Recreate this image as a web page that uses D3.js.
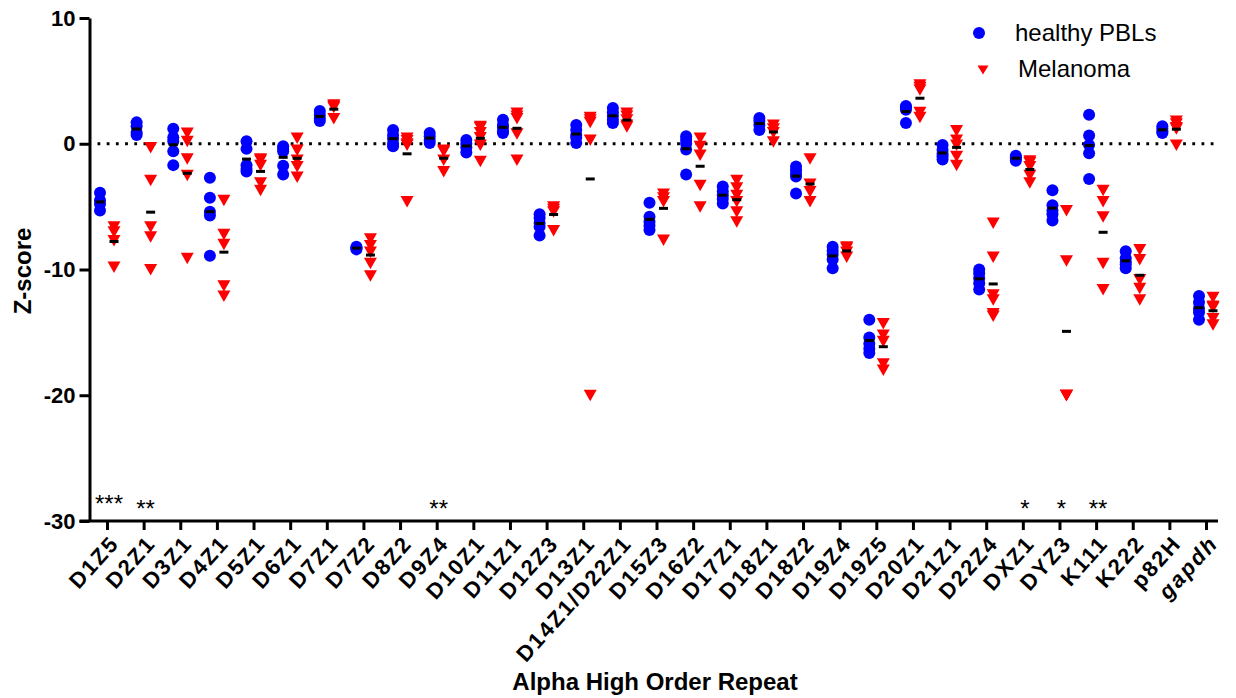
<!DOCTYPE html>
<html lang="en">
<head>
<meta charset="utf-8">
<title>Alpha HOR z-scores</title>
<script src="https://cdn.jsdelivr.net/npm/d3@7"></script>
<style>
  body { margin: 0; background: #fff; }
  svg { font-family: "Liberation Sans", Arial, sans-serif; }
  .axis path, .axis line { stroke: #000; stroke-width: 3; fill: none; }
  .axis text { fill: #000; font-weight: bold; font-family: "Liberation Sans", Arial, sans-serif; }
</style>
</head>
<body>
<script>
// categories (x axis)
var categories = ["D1Z5","D2Z1","D3Z1","D4Z1","D5Z1","D6Z1","D7Z1","D7Z2","D8Z2","D9Z4",
  "D10Z1","D11Z1","D12Z3","D13Z1","D14Z1/D22Z1","D15Z3","D16Z2","D17Z1","D18Z1","D18Z2",
  "D19Z4","D19Z5","D20Z1","D21Z1","D22Z4","DXZ1","DYZ3","K111","K222","p82H","gapdh"];

// z-scores, healthy PBLs (one list per category)
var healthy = [
  [-3.9,-4.5,-4.8,-5.3], [1.7,1.4,0.9,0.7], [1.2,0.5,0.2,-0.6,-1.7], [-2.7,-4.3,-5.4,-5.7,-8.9],
  [0.2,-0.4,-1.7,-2.0,-2.2], [-0.2,-0.4,-0.6,-1.75,-2.45], [2.6,2.3,2.0,1.8], [-8.2,-8.3,-8.3,-8.4],
  [1.1,0.7,0.4,0.0,-0.2], [0.85,0.6,0.3,0.05], [0.3,0.0,-0.3,-0.7], [1.9,1.5,1.3,1.0,0.85],
  [-5.6,-5.9,-6.3,-6.6,-7.3], [1.5,1.1,0.7,0.5,0.05], [2.85,2.5,2.2,1.9,1.65], [-4.7,-5.8,-6.2,-6.5,-6.85],
  [0.6,0.3,0.0,-0.45,-2.45], [-3.4,-3.8,-4.1,-4.4,-4.75], [2.05,1.8,1.5,1.1], [-1.8,-2.1,-2.4,-2.6,-3.95],
  [-8.2,-8.5,-8.8,-9.2,-9.9], [-14.0,-15.4,-15.9,-16.3,-16.65], [3.0,2.9,2.7,1.65], [-0.1,-0.5,-0.8,-1.0,-1.25],
  [-10.0,-10.3,-10.7,-11.1,-11.6], [-0.95,-1.1,-1.2,-1.35], [-3.7,-4.9,-5.3,-5.6,-6.1], [2.3,0.65,-0.1,-0.75,-2.8],
  [-8.55,-9.1,-9.4,-9.6,-9.9], [1.4,1.2,1.0,0.85], [-12.1,-12.6,-13.1,-13.4,-14.0]
];

// z-scores, melanoma
var melanoma = [
  [-6.6,-7.0,-7.7,-9.8], [-0.3,-2.9,-6.6,-7.4,-10.0], [0.85,0.2,-1.2,-2.5,-9.1], [-4.5,-7.2,-8.0,-11.3,-12.1],
  [-1.2,-1.3,-1.7,-3.1,-3.7], [0.45,-0.5,-1.3,-1.8,-2.65], [3.1,3.0,2.9,2.0], [-7.55,-8.1,-8.6,-9.5,-10.5],
  [0.45,0.25,0.0,-0.1,-4.6], [-0.5,-0.6,-1.3,-2.2], [1.4,1.3,0.9,0.5,-0.1,-1.4], [2.45,2.2,2.0,0.8,-1.3],
  [-5.0,-5.2,-5.4,-6.9], [2.1,1.9,1.7,0.3,-20], [2.45,2.2,1.9,1.5,1.35], [-4.0,-4.3,-4.6,-7.65],
  [0.45,-0.2,-0.9,-3.3,-5.0], [-2.9,-3.5,-4.1,-4.6,-5.4,-6.2], [1.5,1.2,0.9,0.15], [-1.2,-3.2,-3.8,-4.6],
  [-8.2,-8.3,-8.6,-9.0], [-14.3,-15.2,-15.7,-17.5,-18.0], [4.7,4.5,4.3,2.5,2.1], [1.05,0.3,-0.1,-1.0,-1.7],
  [-6.3,-9.0,-12.0,-12.4,-13.5,-13.7], [-1.35,-1.5,-1.8,-2.5,-3.1], [-5.3,-9.3,-20,-20,-20], [-3.7,-4.6,-5.8,-9.5,-11.6],
  [-8.4,-9.2,-10.8,-11.5,-12.4], [1.8,1.6,1.3,1.2,-0.1], [-12.2,-12.9,-13.0,-13.9,-14.4]
];

// significance marks
var starCats = ["D1Z5","D2Z1","D9Z4","DXZ1","DYZ3","K111"];
var starLabels = ["***","**","**","*","*","**"];

var yTicks = [10, 0, -10, -20, -30];
var seriesNames = ["healthy PBLs", "Melanoma"];

var w = 1236, h = 698;
var axisX = 89.5, axisY = 521, xEnd = 1218;

var svg = d3.select("body").append("svg").attr("width", w).attr("height", h);

var xScale = d3.scalePoint().domain(categories).range([107, 1206]);
var yScale = d3.scaleLinear().domain([-30, 10]).range([axisY, 18]);
var off = 7;

// dotted zero line
svg.append("line")
  .attr("x1", axisX + 8).attr("x2", xEnd)
  .attr("y1", yScale(0)).attr("y2", yScale(0))
  .attr("stroke", "#000").attr("stroke-width", 2.8)
  .attr("stroke-dasharray", "2.8 6.4");

// points
var hPts = [], mPts = [];
categories.forEach(function(c, i) {
  healthy[i].forEach(function(v) { hPts.push({c: c, v: v}); });
  melanoma[i].forEach(function(v) { mPts.push({c: c, v: v}); });
});

svg.append("g").selectAll("circle").data(hPts).enter().append("circle")
  .attr("cx", function(d) { return xScale(d.c) - off; })
  .attr("cy", function(d) { return yScale(d.v); })
  .attr("r", 6).attr("fill", "#0000ff");

var tri = { draw: function(ctx, size) {
  ctx.moveTo(-6.5, -5.5); ctx.lineTo(6.5, -5.5); ctx.lineTo(0, 6); ctx.closePath();
} };

svg.append("g").selectAll("path").data(mPts).enter().append("path")
  .attr("d", d3.symbol().type(tri))
  .attr("transform", function(d) { return "translate(" + (xScale(d.c) + off) + "," + yScale(d.v) + ")"; })
  .attr("fill", "#ff0000");

// mean bars
var means = [];
categories.forEach(function(c, i) {
  means.push({c: c, v: d3.mean(healthy[i]), dx: -off});
  means.push({c: c, v: d3.mean(melanoma[i]), dx: off});
});
svg.append("g").selectAll("rect").data(means).enter().append("rect")
  .attr("x", function(d) { return xScale(d.c) + d.dx - 4.5; })
  .attr("y", function(d) { return yScale(d.v) - 1.5; })
  .attr("width", 9).attr("height", 3).attr("fill", "#000");

// axes
var yAxis = d3.axisLeft(yScale).tickValues(yTicks).tickSize(10).tickSizeOuter(0).tickPadding(4)
  .tickFormat(function(d) { return String(d); });
var gy = svg.append("g").attr("class", "axis").attr("transform", "translate(" + axisX + ",0)").call(yAxis);
gy.selectAll("text").style("font-size", "22px");

var xAxis = d3.axisBottom(xScale).tickSize(9).tickSizeOuter(0);
var gx = svg.append("g").attr("class", "axis").attr("transform", "translate(0," + axisY + ")").call(xAxis);
gx.select(".domain").remove();
gx.selectAll("text")
  .attr("x", 0).attr("y", 0).attr("dy", "0.35em")
  .attr("text-anchor", "end")
  .attr("transform", "translate(7,18) rotate(-48)")
  .style("font-size", "22px")
  .style("letter-spacing", "2px")
  .style("font-style", function(d) { return d === "gapdh" ? "italic" : "normal"; });
svg.append("line").attr("x1", axisX - 10).attr("x2", xEnd)
  .attr("y1", axisY).attr("y2", axisY).attr("stroke", "#000").attr("stroke-width", 3);

// significance stars
svg.append("g").selectAll("text").data(starCats).enter().append("text")
  .attr("x", function(d) { return xScale(d) + 2; })
  .attr("y", function(d, i) { return axisY - (i === 0 ? 9 : 4); })
  .attr("text-anchor", "middle")
  .style("font-size", "24px")
  .text(function(d, i) { return starLabels[i]; });

// titles
svg.append("text").attr("x", 655).attr("y", 690).attr("text-anchor", "middle")
  .style("font-size", "24px").style("font-weight", "bold").text("Alpha High Order Repeat");
svg.append("text").attr("transform", "translate(31,271) rotate(-90)").attr("text-anchor", "middle")
  .style("font-size", "24px").style("font-weight", "bold").text("Z-score");

// legend
var lg = svg.append("g");
lg.append("circle").attr("cx", 979).attr("cy", 33).attr("r", 6).attr("fill", "#0000ff");
lg.append("path").attr("d", "M977.5,65.5 L988.5,65.5 L983,74.5 Z").attr("fill", "#ff0000");
lg.append("text").attr("x", 1015).attr("y", 41).style("font-size", "24px").text(seriesNames[0]);
lg.append("text").attr("x", 1018).attr("y", 77).style("font-size", "24px").text(seriesNames[1]);
</script>
</body>
</html>
